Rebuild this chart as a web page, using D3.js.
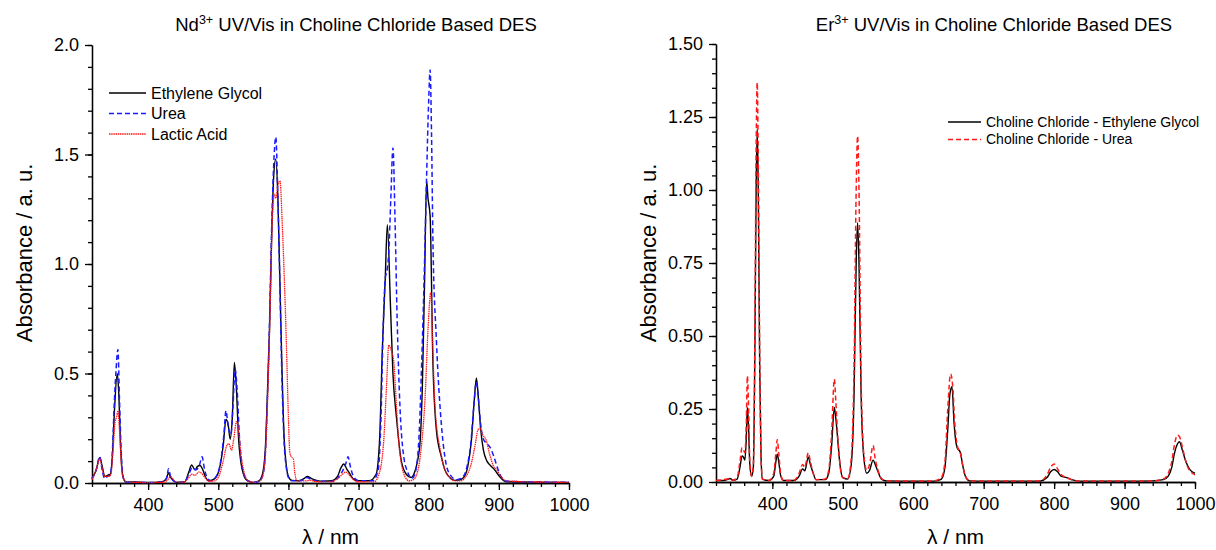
<!DOCTYPE html>
<html>
<head>
<meta charset="utf-8">
<script src="https://cdn.jsdelivr.net/npm/d3@7"></script>
<style>
  body { margin: 0; background: #fff; }
  text { font-family: "Liberation Sans", Arial, sans-serif; fill: #000; }
  .domain, .tick line { stroke: #000; stroke-width: 1.3; }
</style>
</head>
<body>
<svg id="chart" width="1216" height="550"></svg>
<script>
// ---- Nd3+ panel data (wavelength in nm, absorbance) ----
let ndEgNm = [320,326,331,335,338,342,346,349,352,356,358,361,364,368,380,400,420,426,429,432,436,440,452,458,462,467,470,474,478,482,487,495,502,507,511,514,517,520,523,526,529,532,536,541,550,558,563,567,570,573,576,579,582,585,588,591,594,597,600,605,615,622,627,633,640,650,662,670,675,679,683,687,692,700,715,725,730,734,738,741,745.6,749,754,761,768,775,780,784,788,791,794,797,799,802,806,811,818,823,830,837,845,851,856,861,865,868,871,874,878,883,888,894,901,910,950,1000];
let ndEgAbs = [0.02,0.06,0.115,0.07,0.03,0.035,0.04,0.12,0.33,0.50,0.42,0.15,0.03,0.005,0.005,0.002,0.006,0.02,0.047,0.025,0.012,0.003,0.005,0.05,0.082,0.06,0.075,0.08,0.06,0.025,0.01,0.02,0.07,0.17,0.29,0.27,0.20,0.30,0.55,0.42,0.20,0.10,0.04,0.012,0.003,0.01,0.04,0.15,0.40,0.70,1.11,1.40,1.48,1.30,0.90,0.50,0.20,0.08,0.03,0.012,0.01,0.02,0.03,0.02,0.012,0.008,0.01,0.03,0.07,0.087,0.065,0.045,0.02,0.01,0.01,0.04,0.2,0.62,0.93,1.18,0.80,0.5,0.30,0.1,0.04,0.025,0.05,0.1,0.2,0.45,0.9,1.38,1.30,1.22,0.55,0.24,0.12,0.06,0.025,0.012,0.015,0.03,0.08,0.2,0.38,0.48,0.38,0.25,0.15,0.1,0.08,0.06,0.03,0.006,0.004,0.003];

let ndUreaNm = [320,326,331,335,338,342,346,349,352,354,357,359,362,365,369,400,422,427,429,432,436,440,452,458,463,468,473,477,480,484,490,497,503,508,511,514,518,521,524,527,530,533,537,543,555,563,567,570,573,576,579,582,585,588,591,594,597,600,605,620,626,633,645,665,672,678,682,685,688,692,700,720,728,732,735,738,741,743,746,749,752,755,759,764,770,776,781,786,790,794,797,800,802,804,806,811,818,823,830,840,848,855,860,864,868,871,874,878,883,888,893,898,903,912,950,1000];
let ndUreaAbs = [0.02,0.06,0.12,0.05,0.02,0.03,0.035,0.14,0.38,0.50,0.61,0.40,0.12,0.02,0.004,0.002,0.006,0.03,0.065,0.03,0.01,0.003,0.005,0.04,0.07,0.06,0.08,0.12,0.07,0.025,0.01,0.03,0.09,0.22,0.33,0.26,0.22,0.35,0.52,0.42,0.22,0.10,0.035,0.008,0.003,0.03,0.13,0.38,0.72,1.15,1.45,1.58,1.30,0.88,0.45,0.18,0.07,0.025,0.01,0.012,0.025,0.015,0.008,0.008,0.03,0.06,0.09,0.12,0.08,0.035,0.01,0.01,0.06,0.3,0.7,0.93,0.98,1.05,1.3,1.53,1.2,0.75,0.35,0.13,0.05,0.02,0.05,0.2,0.55,1.0,1.4,1.75,1.886,1.6,1.11,0.65,0.27,0.12,0.04,0.015,0.025,0.08,0.18,0.34,0.46,0.38,0.27,0.2,0.18,0.16,0.12,0.07,0.03,0.008,0.005,0.003];

let ndLacticNm = [320,326,331,335,338,343,347,350,353,355,357,359,362,365,370,400,424,428,432,435,439,450,457,462,467,472,476,481,487,495,502,507,512,515,519,522,526,529,532,536,541,550,560,566,570,574,577,580,582,585,588,591,594,597,600,602,604,607,609,612,625,631,640,660,670,677,682,687,693,700,722,730,736,740,743,747,750,754,757,761,766,772,778,784,789,795,799,803,806,809,816,822,830,838,846,853,860,866,870,873,877,882,887,892,897,903,910,950,1000];
let ndLacticAbs = [0.015,0.06,0.11,0.06,0.03,0.03,0.04,0.15,0.28,0.30,0.33,0.25,0.08,0.02,0.005,0.002,0.004,0.015,0.03,0.02,0.005,0.004,0.02,0.04,0.035,0.05,0.045,0.025,0.008,0.01,0.04,0.10,0.17,0.18,0.15,0.20,0.28,0.24,0.14,0.06,0.015,0.003,0.01,0.08,0.35,0.80,1.20,1.32,1.30,1.36,1.38,1.20,0.95,0.65,0.30,0.14,0.12,0.11,0.05,0.01,0.01,0.012,0.006,0.005,0.02,0.04,0.05,0.035,0.015,0.005,0.005,0.05,0.2,0.45,0.63,0.60,0.56,0.35,0.2,0.09,0.03,0.01,0.015,0.05,0.15,0.4,0.7,0.87,0.6,0.35,0.16,0.07,0.025,0.01,0.01,0.03,0.08,0.17,0.24,0.25,0.22,0.195,0.13,0.08,0.06,0.03,0.01,0.005,0.003];

// ---- Er3+ panel data ----
let erEgNm = [320,330,336,340,344,350,354,357,359,361,363,364.5,366,368,370.5,373,375,377,378.5,380,382,384,386,395,402,405,407,409,412,416,430,438,443,446,451,454,458,462,475,480,484,488,490,493,496,500,507,512,516,519,521,523,526,530,534,538,543,546,550,555,562,600,630,640,645,649,652,655,658,662,667,670,674,680,700,780,790,795,800,805,810,818,825,835,900,940,955,962,967,971,975,978,982,987,992,996,1000];
let erEgAbs = [0.005,0.005,0.008,0.012,0.006,0.01,0.05,0.089,0.085,0.075,0.15,0.255,0.2,0.06,0.02,0.05,0.4,1.0,1.208,1.0,0.4,0.08,0.01,0.005,0.02,0.07,0.095,0.07,0.02,0.005,0.005,0.02,0.045,0.038,0.085,0.06,0.03,0.008,0.008,0.03,0.12,0.255,0.22,0.14,0.06,0.015,0.01,0.06,0.3,0.75,0.888,0.75,0.3,0.08,0.03,0.04,0.075,0.06,0.035,0.01,0.004,0.003,0.003,0.01,0.05,0.18,0.3,0.326,0.2,0.12,0.1,0.06,0.02,0.004,0.003,0.003,0.015,0.035,0.043,0.035,0.02,0.015,0.008,0.003,0.003,0.004,0.008,0.02,0.05,0.1,0.13,0.138,0.11,0.07,0.045,0.035,0.03];

let erUreaNm = [320,330,336,340,344,350,354,357,359,361,363,364.5,366,368,370.5,373,375,377,378.5,380,382,384,386,395,402,405,407,409,412,416,430,438,443,446,451,454,458,462,475,480,484,488,490,493,496,500,507,512,516,519,521,523,526,530,534,538,543,546,550,555,562,600,630,640,645,649,653,656,659,663,667,670,674,680,700,780,790,795,800,805,810,818,825,835,900,940,955,962,967,971,975,978,982,987,992,996,1000];
let erUreaAbs = [0.005,0.008,0.01,0.012,0.006,0.015,0.07,0.117,0.11,0.1,0.2,0.363,0.28,0.07,0.02,0.06,0.45,1.15,1.368,1.1,0.45,0.08,0.01,0.005,0.03,0.1,0.145,0.1,0.025,0.005,0.005,0.03,0.06,0.05,0.1,0.07,0.03,0.008,0.01,0.04,0.16,0.352,0.28,0.15,0.06,0.015,0.012,0.08,0.4,1.0,1.185,1.0,0.35,0.09,0.04,0.06,0.125,0.08,0.04,0.012,0.004,0.003,0.004,0.015,0.07,0.25,0.37,0.33,0.2,0.12,0.1,0.06,0.02,0.004,0.003,0.004,0.025,0.05,0.062,0.045,0.025,0.015,0.008,0.003,0.003,0.004,0.01,0.03,0.07,0.13,0.16,0.155,0.12,0.07,0.04,0.03,0.025];

let xMajorTicks = [400, 500, 600, 700, 800, 900, 1000];

let svg = d3.select("#chart");

function zip(nm, abs) {
    return nm.map((x, i) => ({x, y: abs[i]}));
}

function drawPanel(opts) {
    let g = svg.append("g");

    let x = d3.scaleLinear().domain([320, 1000]).range(opts.xRange);
    let y = d3.scaleLinear().domain([0, opts.yMax]).range(opts.yRange);

    // minor ticks first, then major ticks with labels
    g.append("g")
        .attr("transform", `translate(0,${opts.yRange[0]})`)
        .call(d3.axisBottom(x).tickValues(d3.range(320, 1001, 20)).tickSize(4).tickFormat("").tickSizeOuter(0));
    g.append("g")
        .attr("transform", `translate(0,${opts.yRange[0]})`)
        .call(d3.axisBottom(x).tickValues(xMajorTicks).tickSize(7).tickPadding(8)
            .tickFormat(d3.format("d")).tickSizeOuter(0))
        .selectAll("text").style("font-size", "18px");

    g.append("g")
        .attr("transform", `translate(${opts.xRange[0]},0)`)
        .call(d3.axisLeft(y).tickValues(d3.range(0, opts.yMax + 1e-9, opts.minorStep)).tickSize(4).tickFormat("").tickSizeOuter(0));
    g.append("g")
        .attr("transform", `translate(${opts.xRange[0]},0)`)
        .call(d3.axisLeft(y).tickValues(d3.range(0, opts.yMax + 1e-9, opts.majorStep)).tickSize(7).tickPadding(6)
            .tickFormat(d3.format(opts.fmt)).tickSizeOuter(0))
        .selectAll("text").style("font-size", "18px");

    let line = d3.line()
        .x(d => x(d.x))
        .y(d => y(d.y))
        .curve(d3.curveMonotoneX);

    opts.series.forEach(s => {
        g.append("path")
            .datum(zip(s.nm, s.abs))
            .attr("fill", "none")
            .attr("stroke", s.color)
            .attr("stroke-width", s.width)
            .attr("stroke-dasharray", s.dash)
            .attr("d", line);
    });

    // title with superscript
    let title = g.append("text")
        .attr("x", opts.titleX)
        .attr("y", 31)
        .attr("text-anchor", "middle")
        .style("font-size", "18.5px");
    title.append("tspan").text(opts.ion);
    title.append("tspan").attr("dy", -7).style("font-size", "12.5px").text("3+");
    title.append("tspan").attr("dy", 7).text(" UV/Vis in Choline Chloride Based DES");

    g.append("text")
        .attr("transform", `translate(${opts.xRange[0] - 60},${opts.yLabelY}) rotate(-90)`)
        .attr("text-anchor", "middle")
        .style("font-size", "22px")
        .text("Absorbance / a. u.");

    g.append("text")
        .attr("x", (opts.xRange[0] + opts.xRange[1]) / 2)
        .attr("y", 544)
        .attr("text-anchor", "middle")
        .style("font-size", "21px")
        .text("λ / nm");

    // legend
    let leg = g.append("g").attr("transform", `translate(${opts.legend.x},${opts.legend.y})`);
    opts.series.forEach((s, i) => {
        let row = leg.append("g").attr("transform", `translate(0,${i * opts.legend.gap})`);
        row.append("line")
            .attr("x1", 0).attr("x2", opts.legend.len)
            .attr("stroke", s.color)
            .attr("stroke-width", s.width)
            .attr("stroke-dasharray", s.dash);
        row.append("text")
            .attr("x", opts.legend.len + 5)
            .attr("dy", "0.35em")
            .style("font-size", opts.legend.font)
            .text(s.name);
    });
}

drawPanel({
    xRange: [92, 569],
    yRange: [483, 45],
    yMax: 2.0,
    majorStep: 0.5,
    minorStep: 0.1,
    fmt: ".1f",
    ion: "Nd",
    titleX: 356,
    yLabelY: 253,
    legend: {x: 109, y: 93, gap: 20.5, len: 37, font: "16px"},
    series: [
        {name: "Ethylene Glycol", nm: ndEgNm, abs: ndEgAbs, color: "#000", width: 1.4, dash: null},
        {name: "Urea", nm: ndUreaNm, abs: ndUreaAbs, color: "#1a1aff", width: 1.5, dash: "5,3"},
        {name: "Lactic Acid", nm: ndLacticNm, abs: ndLacticAbs, color: "#ff1a1a", width: 1.3, dash: "1.5,0.7"}
    ]
});

drawPanel({
    xRange: [716, 1195],
    yRange: [482, 44],
    yMax: 1.5,
    majorStep: 0.25,
    minorStep: 0.05,
    fmt: ".2f",
    ion: "Er",
    titleX: 994,
    yLabelY: 253,
    legend: {x: 948, y: 122, gap: 17.5, len: 33, font: "14px"},
    series: [
        {name: "Choline Chloride - Ethylene Glycol", nm: erEgNm, abs: erEgAbs, color: "#000", width: 1.4, dash: null},
        {name: "Choline Chloride - Urea", nm: erUreaNm, abs: erUreaAbs, color: "#ff1a1a", width: 1.5, dash: "5,3"}
    ]
});
</script>
</body>
</html>
